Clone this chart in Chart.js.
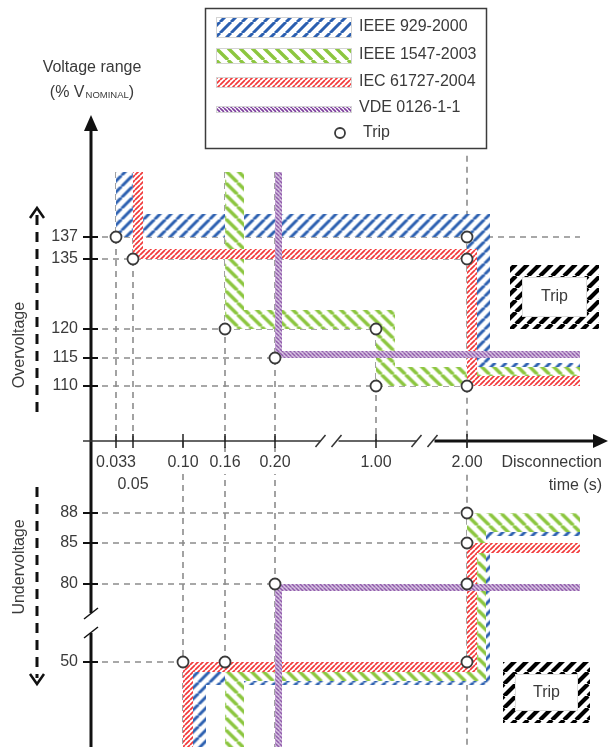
<!DOCTYPE html>
<html>
<head>
<meta charset="utf-8">
<script src="https://cdn.jsdelivr.net/npm/chart.js@4.4.1/dist/chart.umd.min.js"></script>
<style>
  html, body { margin: 0; padding: 0; background: #fff; }
  canvas { display: block; }
</style>
</head>
<body>
<canvas id="chart" width="612" height="747"></canvas>
<script>
// 目盛り（横軸：遮断時間 s、縦軸：電圧 %）
var timeTicks = [0.033, 0.05, 0.10, 0.16, 0.20, 1.00, 2.00];
var timeLabels = ['0.033', '0.05', '0.10', '0.16', '0.20', '1.00', '2.00'];
var overTicks = [137, 135, 120, 115, 110];
var underTicks = [88, 85, 80, 50];

// 規格ごとのトリップ曲線の角 [時間 s, 電圧 %]
var standards = ['IEEE 929-2000', 'IEEE 1547-2003', 'IEC 61727-2004', 'VDE 0126-1-1'];
var ieee929Over   = [[0.033, 145], [0.033, 137], [2.00, 137], [2.00, 110], [2.5, 110]];
var ieee929Under  = [[0.10, 40], [0.10, 50], [2.00, 50], [2.00, 88], [2.5, 88]];
var ieee1547Over  = [[0.16, 145], [0.16, 120], [1.00, 120], [1.00, 110], [2.5, 110]];
var ieee1547Under = [[0.16, 40], [0.16, 50], [2.00, 50], [2.00, 88], [2.5, 88]];
var iec61727Over  = [[0.05, 145], [0.05, 135], [2.00, 135], [2.00, 110], [2.5, 110]];
var iec61727Under = [[0.10, 40], [0.10, 50], [2.00, 50], [2.00, 85], [2.5, 85]];
var vdeOver       = [[0.20, 145], [0.20, 115], [2.5, 115]];
var vdeUnder      = [[0.20, 40], [0.20, 80], [2.5, 80]];

// トリップ点
var tripOver  = [[0.033, 137], [0.05, 135], [0.16, 120], [0.20, 115], [1.00, 120], [1.00, 110], [2.00, 137], [2.00, 135], [2.00, 110]];
var tripUnder = [[2.00, 88], [2.00, 85], [2.00, 80], [2.00, 50], [0.20, 80], [0.10, 50], [0.16, 50]];

// 補助線（破線） 横: [電圧, 時間から, 時間まで]  縦: [時間, 電圧から, 電圧まで]
var hGuides = [[137, 0, 2.5], [135, 0, 2], [120, 0, 1], [115, 0, 0.2], [110, 0, 2], [88, 0, 2], [85, 0, 2], [80, 0, 0.2], [50, 0, 0.1]];
var vGuides = [[0.033, 145, 100], [0.05, 145, 100], [0.10, 100, 40], [0.16, 145, 50], [0.20, 145, 40], [1.00, 120, 100], [2.00, 147, 40]];

// 軸の折れ目付きスケール（値 → ピクセル位置）
var scaleAnchors = {
    x: [[0, 91], [0.033, 116], [0.05, 133], [0.10, 183], [0.16, 225], [0.20, 275], [1.00, 376], [2.00, 467], [2.5, 580], [3, 607]],
    y: [[40, 760], [50, 662], [80, 584], [85, 543], [88, 513], [100, 441], [110, 386], [115, 358], [120, 329], [135, 259], [137, 237], [145, 172]]
};
var X_END = 2.5, Y_TOP = 145, Y_MID = 100;

class BrokenScale extends Chart.LinearScale {
    getPixelForValue(v) {
        var a = scaleAnchors[this.id];
        var i = 1;
        while (i < a.length - 1 && v > a[i][0]) i++;
        var p = a[i - 1], q = a[i];
        return p[1] + (v - p[0]) * (q[1] - p[1]) / (q[0] - p[0]);
    }
    getValueForPixel(px) {
        var a = scaleAnchors[this.id];
        var best = a[0][0], d = 1e9;
        for (var i = 0; i < a.length; i++) {
            if (Math.abs(a[i][1] - px) < d) { d = Math.abs(a[i][1] - px); best = a[i][0]; }
        }
        return best;
    }
}
BrokenScale.id = 'broken';
BrokenScale.defaults = {};
Chart.register(BrokenScale);

var canvas = document.getElementById('chart');
var ctx0 = canvas.getContext('2d');

// 斜線パターン
function hatch(color, size, width, dir) {
    var t = document.createElement('canvas');
    t.width = t.height = size;
    var g = t.getContext('2d');
    g.fillStyle = '#fff';
    g.fillRect(0, 0, size, size);
    g.strokeStyle = color;
    g.lineWidth = width;
    g.beginPath();
    for (var k = -1; k <= 1; k++) {
        if (dir === '/') { g.moveTo(k * size, size); g.lineTo(k * size + size, 0); }
        else { g.moveTo(k * size, 0); g.lineTo(k * size + size, size); }
    }
    g.stroke();
    return ctx0.createPattern(t, 'repeat');
}
var blueHatch   = hatch('#2b5fb0', 11, 3.0, '/');
var greenHatch  = hatch('#8cc63f', 12, 3.4, '\\');
var redHatch    = hatch('#f2393a', 5, 1.7, '/');
var purpleHatch = hatch('#7c3d9c', 4, 1.6, '\\');
var blackHatch  = hatch('#000', 12, 4.2, '/');

function pts(a) {
    return a.map(function(p) { return {x: p[0], y: p[1]}; });
}

function band(data, pattern, w, side, order) {
    return {
        data: pts(data), borderColor: pattern, borderWidth: w, side: side, order: order,
        pointRadius: 0, borderJoinStyle: 'miter', borderCapStyle: 'butt', fill: false, tension: 0, clip: false
    };
}

var datasets = [];
// トリップ点
datasets.push({
    data: pts(tripOver.concat(tripUnder)), showLine: false, order: 0, clip: false,
    pointRadius: 5.5, pointBackgroundColor: '#fff', pointBorderColor: '#3a3a3a', pointBorderWidth: 1.8
});
// 規格の帯
datasets.push(band(vdeOver, purpleHatch, 7, 'over', 1));
datasets.push(band(vdeUnder, purpleHatch, 7, 'under', 1));
datasets.push(band(iec61727Over, redHatch, 10, 'over', 2));
datasets.push(band(iec61727Under, redHatch, 10, 'under', 2));
datasets.push(band(ieee1547Over, greenHatch, 19, 'over', 3));
datasets.push(band(ieee1547Under, greenHatch, 19, 'under', 3));
datasets.push(band(ieee929Over, blueHatch, 23, 'over', 4));
datasets.push(band(ieee929Under, blueHatch, 23, 'under', 4));
// 破線
hGuides.forEach(function(g) {
    datasets.push({data: pts([[g[1], g[0]], [g[2], g[0]]]), borderColor: '#8c8c8c', borderWidth: 1.6,
        borderDash: [6, 5], pointRadius: 0, order: 5, clip: false});
});
vGuides.forEach(function(g) {
    datasets.push({data: pts([[g[0], g[1]], [g[0], g[2]]]), borderColor: '#8c8c8c', borderWidth: 1.6,
        borderDash: [6, 5], pointRadius: 0, order: 5, clip: false});
});

// 帯をトリップ側にずらす
var bandOffset = {
    id: 'bandOffset',
    beforeDatasetDraw: function(chart, args) {
        var ds = chart.data.datasets[args.index];
        if (!ds.side) return;
        var c = chart.ctx, xs = chart.scales.x, ys = chart.scales.y;
        var h = ds.borderWidth / 2;
        var x0 = xs.getPixelForValue(0), x1 = xs.getPixelForValue(X_END);
        var y0, y1;
        if (ds.side === 'over') { y0 = ys.getPixelForValue(Y_TOP); y1 = ys.getPixelForValue(Y_MID); }
        else { y0 = ys.getPixelForValue(Y_MID); y1 = chart.height; }
        c.save();
        c.beginPath();
        c.rect(x0, y0, x1 - x0, y1 - y0);
        c.clip();
        c.translate(h, ds.side === 'over' ? -h : h);
    },
    afterDatasetDraw: function(chart, args) {
        if (chart.data.datasets[args.index].side) chart.ctx.restore();
    }
};

var FONT = '"Liberation Sans", Arial, sans-serif';
var TXT = '#3a3a3a';

function line(c, x1, y1, x2, y2) {
    c.beginPath(); c.moveTo(x1, y1); c.lineTo(x2, y2); c.stroke();
}

// 軸・ラベル・凡例
var decor = {
    id: 'decor',
    afterDatasetsDraw: function(chart) {
        var c = chart.ctx, xs = chart.scales.x, ys = chart.scales.y;
        var ox = xs.getPixelForValue(0), oy = ys.getPixelForValue(Y_MID);
        c.save();
        c.lineCap = 'butt';

        // 縦軸
        var yb = (ys.getPixelForValue(80) + ys.getPixelForValue(50)) / 2;
        c.strokeStyle = '#111'; c.lineWidth = 3;
        line(c, ox, 128, ox, yb - 10);
        line(c, ox, yb + 10, ox, chart.height);
        c.fillStyle = '#111';
        c.beginPath(); c.moveTo(ox, 115); c.lineTo(ox - 7, 131); c.lineTo(ox + 7, 131); c.closePath(); c.fill();
        c.lineWidth = 1.5;
        line(c, ox - 7, yb - 4, ox + 7, yb - 15);
        line(c, ox - 7, yb + 15, ox + 7, yb + 4);

        // 横軸
        var xb1 = (xs.getPixelForValue(0.2) + xs.getPixelForValue(1)) / 2 + 4;
        var xb2 = (xs.getPixelForValue(1) + xs.getPixelForValue(2)) / 2 + 4;
        c.strokeStyle = '#333'; c.lineWidth = 1.5;
        line(c, 83, oy, xb1 - 9, oy);
        line(c, xb1 + 9, oy, xb2 - 9, oy);
        [xb1, xb2].forEach(function(b) {
            line(c, b - 14, oy + 6, b - 4, oy - 6);
            line(c, b + 2, oy + 6, b + 12, oy - 6);
        });
        c.strokeStyle = '#111'; c.lineWidth = 3;
        line(c, xb2 + 9, oy, 595, oy);
        c.beginPath(); c.moveTo(608, oy); c.lineTo(593, oy - 7); c.lineTo(593, oy + 7); c.closePath(); c.fill();

        // 横軸の目盛りとラベル
        c.font = '16px ' + FONT;
        c.textAlign = 'center'; c.textBaseline = 'middle';
        c.strokeStyle = '#222'; c.lineWidth = 1.5;
        timeTicks.forEach(function(t, i) {
            var px = xs.getPixelForValue(t);
            line(c, px, oy - 7, px, oy + 7);
            var ty = i === 1 ? oy + 44 : oy + 22;
            var w = c.measureText(timeLabels[i]).width;
            c.fillStyle = '#fff';
            c.fillRect(px - w / 2 - 2, ty - 11, w + 4, 22);
            c.fillStyle = TXT;
            c.fillText(timeLabels[i], px, ty);
        });
        c.textAlign = 'right';
        c.fillText('Disconnection', 602, oy + 22);
        c.fillText('time (s)', 602, oy + 45);

        // 縦軸の目盛りとラベル
        c.lineWidth = 2; c.strokeStyle = '#111';
        overTicks.concat(underTicks).forEach(function(v) {
            var py = ys.getPixelForValue(v);
            line(c, ox - 8, py, ox + 7, py);
            c.fillText(String(v), ox - 13, py);
        });

        // 縦軸タイトル
        c.textAlign = 'center';
        c.fillText('Voltage range', 92, 68);
        var a = '(% V', b = 'NOMINAL', d = ')';
        var wa = c.measureText(a).width, wd = c.measureText(d).width;
        c.font = '9.5px ' + FONT;
        var wb = c.measureText(b).width;
        var sx = 92 - (wa + wb + wd + 1) / 2;
        c.textAlign = 'left';
        c.font = '16px ' + FONT;
        c.fillText(a, sx, 93);
        c.font = '9.5px ' + FONT;
        c.fillText(b, sx + wa + 1, 95);
        c.font = '16px ' + FONT;
        c.fillText(d, sx + wa + wb + 1, 93);

        // 過電圧・不足電圧の矢印
        c.strokeStyle = '#111'; c.lineWidth = 3;
        c.setLineDash([10, 7]);
        line(c, 37, 215, 37, 413);
        line(c, 37, 487, 37, 678);
        c.setLineDash([]);
        c.lineWidth = 2.5;
        c.beginPath(); c.moveTo(30, 218); c.lineTo(37, 208); c.lineTo(44, 218); c.stroke();
        c.beginPath(); c.moveTo(30, 674); c.lineTo(37, 684); c.lineTo(44, 674); c.stroke();
        c.textAlign = 'center';
        [['Overvoltage', 345], ['Undervoltage', 567]].forEach(function(s) {
            c.save();
            c.translate(20, s[1]);
            c.rotate(-Math.PI / 2);
            c.fillText(s[0], 0, 0);
            c.restore();
        });

        // トリップ領域
        [[510, 265, 89, 64], [503, 662, 87, 61]].forEach(function(r) {
            c.fillStyle = blackHatch;
            c.fillRect(r[0], r[1], r[2], r[3]);
            c.fillStyle = '#fff';
            c.fillRect(r[0] + 12, r[1] + 12, r[2] - 24, r[3] - 24);
            c.strokeStyle = '#ddd'; c.lineWidth = 1;
            c.strokeRect(r[0] + 12.5, r[1] + 12.5, r[2] - 25, r[3] - 25);
            c.fillStyle = TXT;
            c.fillText('Trip', r[0] + r[2] / 2, r[1] + r[3] / 2);
        });

        // 凡例
        c.fillStyle = '#fff';
        c.fillRect(205, 8, 281, 140);
        c.strokeStyle = '#3c3c3c'; c.lineWidth = 1.5;
        c.strokeRect(205.5, 8.5, 281, 140);
        var sw = [[blueHatch, 17, 21, 27], [greenHatch, 48, 16, 55], [redHatch, 77, 11, 82], [purpleHatch, 106, 7, 108]];
        c.textAlign = 'left';
        sw.forEach(function(s, i) {
            c.fillStyle = s[0];
            c.fillRect(216, s[1], 136, s[2]);
            c.strokeStyle = '#d4d4d4'; c.lineWidth = 1;
            c.strokeRect(216.5, s[1] + 0.5, 135, s[2] - 1);
            c.fillStyle = TXT;
            c.fillText(standards[i], 359, s[3]);
        });
        c.beginPath(); c.arc(340, 133, 5, 0, Math.PI * 2);
        c.fillStyle = '#fff'; c.fill();
        c.strokeStyle = '#3a3a3a'; c.lineWidth = 1.8; c.stroke();
        c.fillStyle = TXT;
        c.fillText('Trip', 363, 133);

        c.restore();
    }
};

new Chart(canvas, {
    type: 'line',
    data: { datasets: datasets },
    options: {
        responsive: false,
        animation: false,
        events: [],
        layout: { padding: 0 },
        plugins: { legend: { display: false }, tooltip: { enabled: false } },
        scales: {
            x: { type: 'broken', min: 0, max: 3, display: false },
            y: { type: 'broken', min: 40, max: 150, display: false }
        }
    },
    plugins: [bandOffset, decor]
});
</script>
</body>
</html>
